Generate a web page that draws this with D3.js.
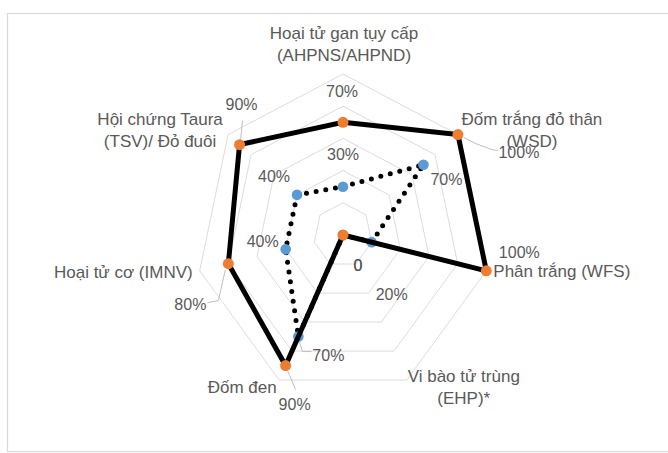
<!DOCTYPE html>
<html>
<head>
<meta charset="utf-8">
<script src="https://cdn.jsdelivr.net/npm/d3@7/dist/d3.min.js"></script>
<style>
  html, body { margin: 0; padding: 0; background: #fff; }
  svg { display: block; }
  text { font-family: "Liberation Sans", Arial, sans-serif; fill: #595959; }
</style>
</head>
<body>
<svg id="chart" width="668" height="453"></svg>
<script>
// Disease categories (clockwise from the top)
const categories = [
  ["Hoại tử gan tụy cấp", "(AHPNS/AHPND)"],
  ["Đốm trắng đỏ thân", "(WSD)"],
  ["Phân trắng (WFS)"],
  ["Vi bào tử trùng", "(EHP)*"],
  ["Đốm đen"],
  ["Hoại tử cơ (IMNV)"],
  ["Hội chứng Taura", "(TSV)/ Đỏ đuôi"]
];

// Series values (share of 1)
const solidValues  = [0.7, 1.0, 1.0, 0.0, 0.9, 0.8, 0.9];
const dottedValues = [0.3, 0.7, 0.2, 0.0, 0.7, 0.4, 0.4];

// Grid rings
const gridLevels = [0.2, 0.4, 0.6, 0.8, 1.0];

// Label formatting
const pct = v => v === 0 ? "0" : d3.format(".0%")(v);

// ---- layout ----
const cx = 343, cy = 235;
const n = categories.length;
const rX = d3.scaleLinear().domain([0, 1]).range([0, 147]);
const rY = d3.scaleLinear().domain([0, 1]).range([0, 161]);
const angle = d3.scaleLinear().domain([0, n]).range([0, 2 * Math.PI]);
const px = (i, v) => cx + Math.sin(angle(i)) * rX(v);
const py = (i, v) => cy - Math.cos(angle(i)) * rY(v);

// value-label placement relative to each marker: [dx, dy(baseline)]
const solidLabelPos  = [[-1, -25], [61, 23], [33, -13], [15, 36], [9, 44], [-38, 46], [2, -35]];
const dottedLabelPos = [[0, -27], [23, 20], [20, 58], [15, 36], [30, 24], [-23, -2], [-23, -13]];
// leader lines for moved labels, points relative to the marker
const solidLeaders = {
  1: [[6, 3], [18, 9], [34, 15], [40, 16]],
  4: [[2, 5], [10, 24]],
  5: [[-3, 6], [-10, 37], [-21, 39]],
  6: [[1, -5], [3, -24]]
};
const dottedLeaders = {
  4: [[1, 5], [4, 15], [13, 15]]
};
// category-label placement relative to the outer ring vertex
const catPos = [
  [1, -35, "middle"], [74, -10, "middle"], [7, 6, "start"], [57, 2, "middle"],
  [-37, 13, "middle"], [-7, 7, "end"], [-68, -10, "middle"]
];

const svg = d3.select("#chart");

// chart area border
svg.append("rect")
  .attr("x", 7.5).attr("y", 13.5).attr("width", 680).attr("height", 438)
  .attr("fill", "none").attr("stroke", "#d9d9d9").attr("stroke-width", 1.2);

// grid rings
const ringLine = d3.line();
svg.append("g").selectAll("path").data(gridLevels).join("path")
  .attr("d", lv => ringLine(d3.range(n).map(i => [px(i, lv), py(i, lv)])) + "Z")
  .attr("fill", "none").attr("stroke", "#dcdcdc").attr("stroke-width", 1);

// category labels
const cats = svg.append("g").selectAll("text").data(categories).join("text")
  .attr("x", (d, i) => px(i, 1) + catPos[i][0])
  .attr("y", (d, i) => py(i, 1) + catPos[i][1])
  .attr("text-anchor", (d, i) => catPos[i][2])
  .style("font-size", "17px");
cats.each(function (lines) {
  const t = d3.select(this);
  const x = t.attr("x");
  lines.forEach((s, k) => t.append("tspan").attr("x", x).attr("dy", k === 0 ? 0 : 22).text(s));
});

// series line builder
const seriesLine = vals => d3.line()(vals.map((v, i) => [px(i, v), py(i, v)])) + "Z";

// leader lines
function drawLeaders(vals, leaders) {
  Object.entries(leaders).forEach(([k, pts]) => {
    const i = +k;
    svg.append("path")
      .attr("d", d3.line()(pts.map(p => [px(i, vals[i]) + p[0], py(i, vals[i]) + p[1]])))
      .attr("fill", "none").attr("stroke", "#bfbfbf").attr("stroke-width", 1);
  });
}
drawLeaders(solidValues, solidLeaders);
drawLeaders(dottedValues, dottedLeaders);

// dotted series
svg.append("path").attr("d", seriesLine(dottedValues))
  .attr("fill", "none").attr("stroke", "#000").attr("stroke-width", 5)
  .attr("stroke-linecap", "round").attr("stroke-dasharray", "0 9.8");
svg.append("g").selectAll("circle").data(dottedValues).join("circle")
  .attr("cx", (v, i) => px(i, v)).attr("cy", (v, i) => py(i, v))
  .attr("r", 5.3).attr("fill", "#5B9BD5");

// solid series
svg.append("path").attr("d", seriesLine(solidValues))
  .attr("fill", "none").attr("stroke", "#000").attr("stroke-width", 5)
  .attr("stroke-linejoin", "miter");
svg.append("g").selectAll("circle").data(solidValues).join("circle")
  .attr("cx", (v, i) => px(i, v)).attr("cy", (v, i) => py(i, v))
  .attr("r", 5.5).attr("fill", "#ED7D31");

// value labels
function drawLabels(vals, pos) {
  svg.append("g").selectAll("text").data(vals).join("text")
    .attr("x", (v, i) => px(i, v) + pos[i][0])
    .attr("y", (v, i) => py(i, v) + pos[i][1])
    .attr("text-anchor", "middle")
    .style("font-size", "16px")
    .text(v => pct(v));
}
drawLabels(solidValues, solidLabelPos);
drawLabels(dottedValues, dottedLabelPos);
</script>
</body>
</html>
